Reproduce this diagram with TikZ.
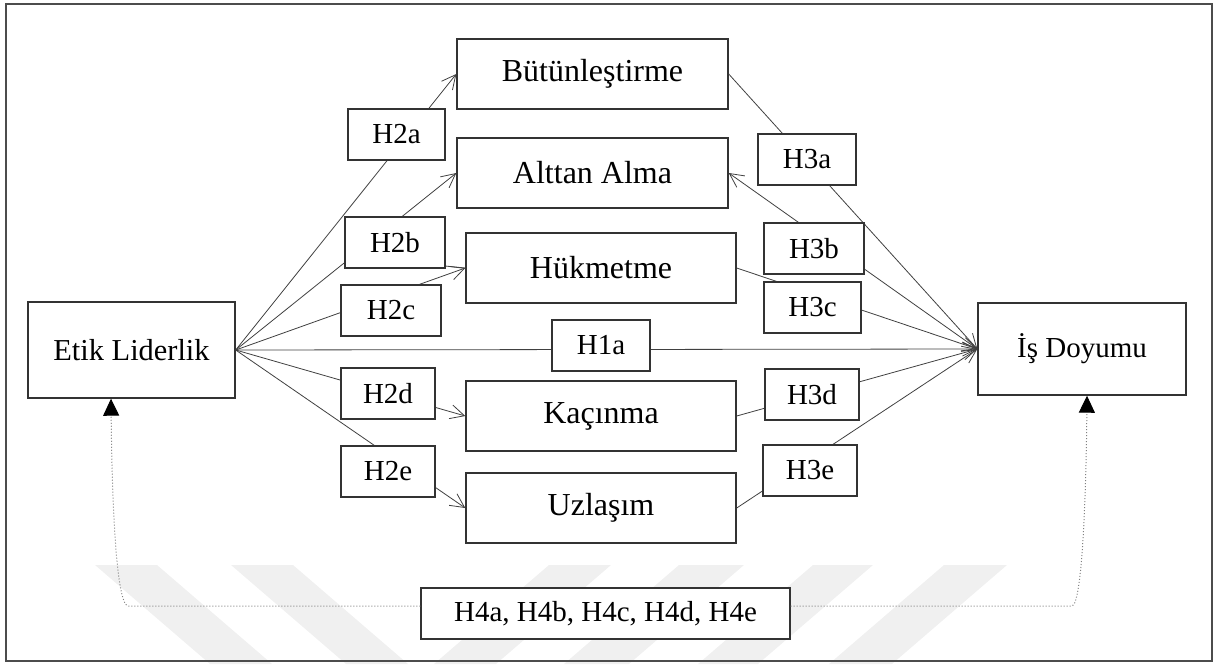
\documentclass[tikz,border=0pt]{standalone}
\usepackage{fontspec}
\setmainfont{Liberation Serif}
\usetikzlibrary{arrows.meta,calc}
\begin{document}
\begin{tikzpicture}[x=0.5pt,y=-0.5pt,
  box/.style={draw=black!80, line width=0.7pt, fill=white, inner sep=0pt, align=center, minimum height=35pt, font=\fontsize{16}{19}\selectfont},
  hbox/.style={draw=black!80, line width=0.7pt, fill=white, inner sep=0pt, minimum height=25.5pt, font=\fontsize{14.5}{17}\selectfont},
  conn/.style={draw=black!75, line width=0.4pt, -{Straight Barb[length=7pt,width=7pt]}},
  plainline/.style={draw=black!75, line width=0.4pt},
  dotconn/.style={draw=black!50, line width=0.5pt, densely dotted, -{Triangle[length=8.5pt,width=8pt,color=black]}},
  wm/.style={fill=black!6, draw=none}]
\useasboundingbox (0,0) rectangle (1219,664);
% watermark
\fill[wm] (95,565) -- (157,565) -- (272,664) -- (210,664) -- cycle;
\fill[wm] (231,565) -- (293,565) -- (408,664) -- (346,664) -- cycle;
\fill[wm] (549,565) -- (611,565) -- (496,664) -- (434,664) -- cycle;
\fill[wm] (679,565) -- (744,565) -- (629,664) -- (564,664) -- cycle;
\fill[wm] (813,565) -- (873,565) -- (758,664) -- (698,664) -- cycle;
\fill[wm] (944,565) -- (1007,565) -- (892,664) -- (829,664) -- cycle;
% frame
\draw[black!70, line width=0.8pt] (6,4) rectangle (1212,661);
% main boxes
\node[box, minimum width=135.5pt] (but) at (592.5,74) {Bütünleştirme};
\node[box, minimum width=135.5pt] (alt) at (592.5,173) {Alttan Alma};
\node[box, minimum width=135pt] (huk) at (601,268) {Hükmetme};
\node[box, minimum width=135pt] (kac) at (601,416) {Kaçınma};
\node[box, minimum width=135pt] (uzl) at (601,508) {Uzlaşım};
\node[box, minimum width=103.5pt, minimum height=48pt, font=\fontsize{15.2}{18}\selectfont] (etik) at (131.5,350) {Etik Liderlik};
\node[box, minimum width=104pt, minimum height=46pt, font=\fontsize{14.5}{17}\selectfont] (is) at (1082,349) {İş Doyumu};
\node[hbox, minimum width=184.5pt] (h4) at (605.5,613.5) {H4a, H4b, H4c, H4d, H4e};
% connectors
\draw[conn] (etik.east) -- (but.west);
\draw[conn] (etik.east) -- (alt.west);
\draw[conn] (etik.east) -- (huk.west);
\draw[conn] (etik.east) -- (kac.west);
\draw[conn] (etik.east) -- (uzl.west);
\draw[conn] (etik.east) -- (is.west);
\coordinate (h2bx) at (445,266);
\draw[plainline] (h2bx) -- (huk.west);
\draw[conn] (but.east) -- (is.west);
\draw[conn] (is.west) -- (alt.east);
\draw[conn] (huk.east) -- (is.west);
\draw[conn] (kac.east) -- (is.west);
\draw[conn] (uzl.east) -- (is.west);
% H4 dotted connectors
\coordinate (lc) at (128,606);
\coordinate (rc) at (1072,606);
\draw[dotconn] ($(h4.west)+(0,-7.5)$) -- (lc) .. controls (116,604) and (112,500) .. ($(etik.south)+(-20.5,0)$);
\draw[dotconn] ($(h4.east)+(0,-7.5)$) -- (rc) .. controls (1082,604) and (1086,500) .. ($(is.south)+(5,0)$);
% hypothesis labels
\node[hbox, minimum width=48.5pt] (h2a) at (396.5,134.5) {H2a};
\node[hbox, minimum width=50pt] (h2b) at (395,242.5) {H2b};
\node[hbox, minimum width=50pt] (h2c) at (391,310.5) {H2c};
\node[hbox, minimum width=47pt] (h2d) at (388,393.5) {H2d};
\node[hbox, minimum width=47pt] (h2e) at (388,471.5) {H2e};
\node[hbox, minimum width=49pt] (h1a) at (601,345.5) {H1a};
\node[hbox, minimum width=49pt] (h3a) at (807,159.5) {H3a};
\node[hbox, minimum width=50pt] (h3b) at (814,248.5) {H3b};
\node[hbox, minimum width=48.5pt] (h3c) at (812.5,307.5) {H3c};
\node[hbox, minimum width=47pt] (h3d) at (812,394.5) {H3d};
\node[hbox, minimum width=47pt] (h3e) at (810,470.5) {H3e};
\end{tikzpicture}
\end{document}
